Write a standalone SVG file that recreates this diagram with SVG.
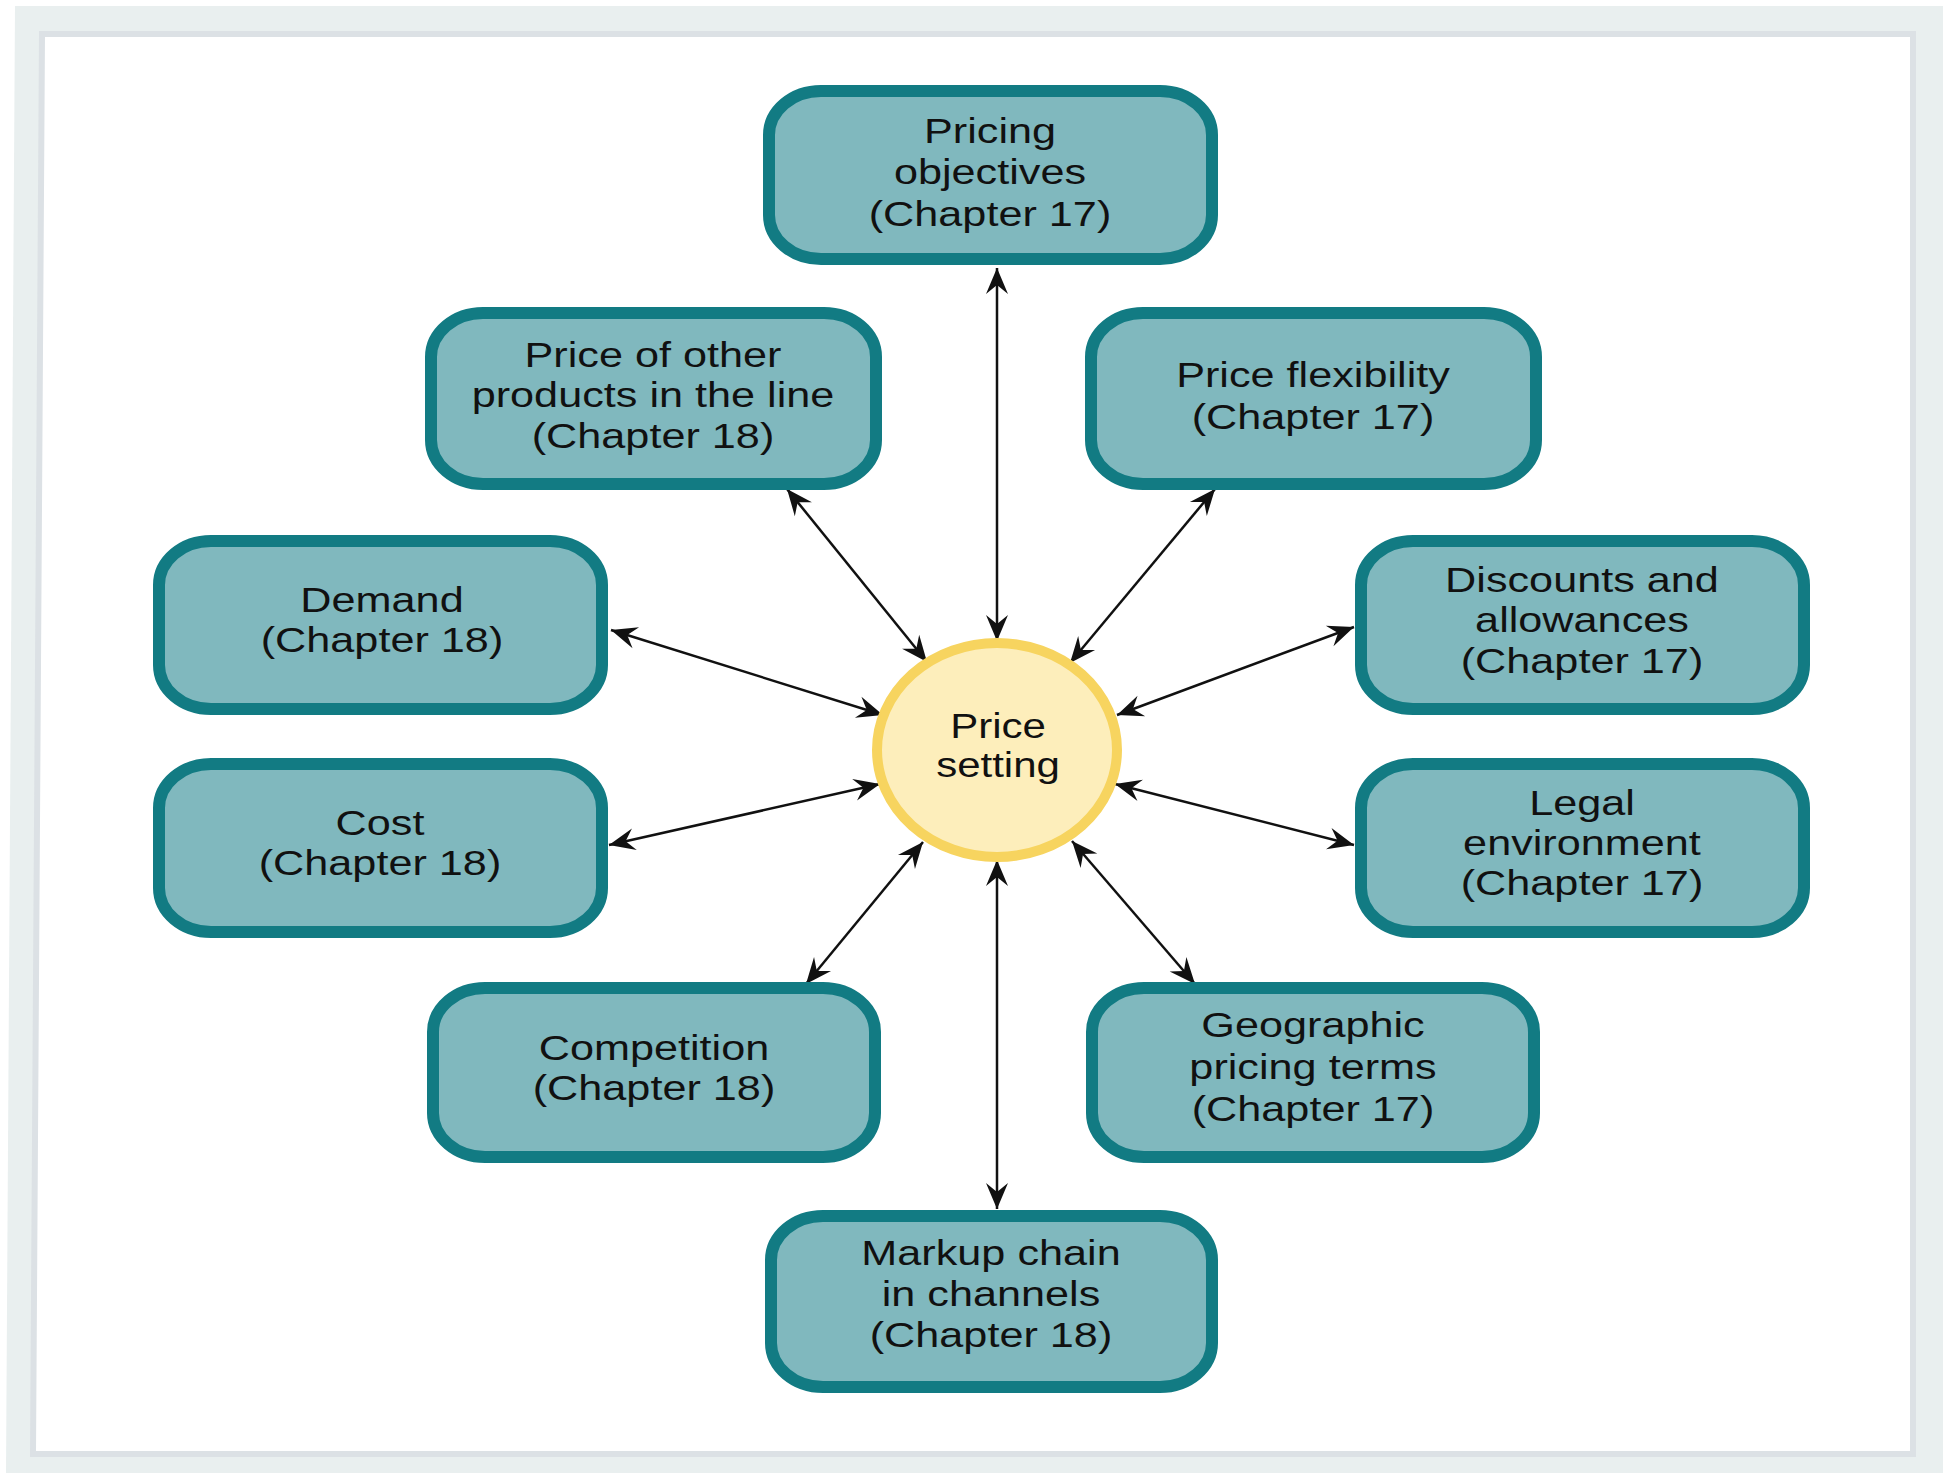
<svg xmlns="http://www.w3.org/2000/svg" width="1948" height="1473" viewBox="0 0 1948 1473">
  <style>
    .box { fill: #80b8be; stroke: #127b83; stroke-width: 12; }
    .hub { fill: #fdeebb; stroke: #f7d45f; stroke-width: 10; }
    .lbl { font-family: "Liberation Sans", Arial, sans-serif; font-size: 35px; fill: #111; text-anchor: middle; }
    .link { stroke: #111; stroke-width: 2.5; fill: none; marker-start: url(#arrow); marker-end: url(#arrow); }
  </style>
  <defs>
    <marker id="arrow" viewBox="-28 -13 30 26" refX="0" refY="0" markerWidth="30" markerHeight="26" markerUnits="userSpaceOnUse" orient="auto-start-reverse">
      <path d="M0,0 L-26,-11 L-17,0 L-26,11 Z" fill="#111"/>
    </marker>
  </defs>

  <!-- page frame -->
  <g id="frame">
    <polygon points="15,6 1943,6 1943,1473 6,1473" fill="#e9efef"/>
    <polygon points="42,34 1913,34 1913,1454 33,1454" fill="#ffffff" stroke="#dce1e5" stroke-width="6"/>
  </g>

  <!-- connectors -->
  <g id="connectors">
    <line class="link" x1="997" y1="268" x2="997" y2="641"/>
    <line class="link" x1="787" y1="489" x2="927" y2="662"/>
    <line class="link" x1="1215" y1="489" x2="1070" y2="663"/>
    <line class="link" x1="611" y1="630" x2="883" y2="715"/>
    <line class="link" x1="1354" y1="627" x2="1117" y2="715"/>
    <line class="link" x1="609" y1="845" x2="880" y2="784"/>
    <line class="link" x1="1354" y1="845" x2="1115" y2="784"/>
    <line class="link" x1="806" y1="984" x2="923" y2="842"/>
    <line class="link" x1="1195" y1="984" x2="1072" y2="841"/>
    <line class="link" x1="997" y1="860" x2="997" y2="1209"/>
  </g>

  <!-- central node -->
  <g id="price-setting">
    <ellipse class="hub" cx="997" cy="750" rx="120" ry="107"/>
    <text class="lbl" transform="translate(998,750) scale(1.2,1)"><tspan x="0" y="-12">Price</tspan><tspan x="0" y="27">setting</tspan></text>
  </g>

  <g id="pricing-objectives">
    <rect class="box" x="769" y="91" width="443" height="168" rx="52" ry="44"/>
    <text class="lbl" transform="translate(990,175) scale(1.235,1)"><tspan x="0" y="-32">Pricing</tspan><tspan x="0" y="9">objectives</tspan><tspan x="0" y="51">(Chapter 17)</tspan></text>
  </g>

  <g id="price-other-products">
    <rect class="box" x="431" y="313" width="445" height="171" rx="52" ry="44"/>
    <text class="lbl" transform="translate(653,398) scale(1.235,1)"><tspan x="0" y="-31">Price of other</tspan><tspan x="0" y="9">products in the line</tspan><tspan x="0" y="50">(Chapter 18)</tspan></text>
  </g>

  <g id="price-flexibility">
    <rect class="box" x="1091" y="313" width="445" height="171" rx="52" ry="44"/>
    <text class="lbl" transform="translate(1313,398) scale(1.235,1)"><tspan x="0" y="-11">Price flexibility</tspan><tspan x="0" y="31">(Chapter 17)</tspan></text>
  </g>

  <g id="demand">
    <rect class="box" x="159" y="541" width="443" height="168" rx="52" ry="44"/>
    <text class="lbl" transform="translate(382,625) scale(1.235,1)"><tspan x="0" y="-13">Demand</tspan><tspan x="0" y="27">(Chapter 18)</tspan></text>
  </g>

  <g id="discounts-allowances">
    <rect class="box" x="1361" y="541" width="443" height="168" rx="52" ry="44"/>
    <text class="lbl" transform="translate(1582,625) scale(1.235,1)"><tspan x="0" y="-33">Discounts and</tspan><tspan x="0" y="7">allowances</tspan><tspan x="0" y="48">(Chapter 17)</tspan></text>
  </g>

  <g id="cost">
    <rect class="box" x="159" y="764" width="443" height="168" rx="52" ry="44"/>
    <text class="lbl" transform="translate(380,848) scale(1.235,1)"><tspan x="0" y="-13">Cost</tspan><tspan x="0" y="27">(Chapter 18)</tspan></text>
  </g>

  <g id="legal-environment">
    <rect class="box" x="1361" y="764" width="443" height="168" rx="52" ry="44"/>
    <text class="lbl" transform="translate(1582,848) scale(1.235,1)"><tspan x="0" y="-33">Legal</tspan><tspan x="0" y="7">environment</tspan><tspan x="0" y="47">(Chapter 17)</tspan></text>
  </g>

  <g id="competition">
    <rect class="box" x="433" y="988" width="442" height="169" rx="52" ry="44"/>
    <text class="lbl" transform="translate(654,1072) scale(1.235,1)"><tspan x="0" y="-12">Competition</tspan><tspan x="0" y="28">(Chapter 18)</tspan></text>
  </g>

  <g id="geographic-pricing">
    <rect class="box" x="1092" y="988" width="442" height="169" rx="52" ry="44"/>
    <text class="lbl" transform="translate(1313,1072) scale(1.235,1)"><tspan x="0" y="-35">Geographic</tspan><tspan x="0" y="7">pricing terms</tspan><tspan x="0" y="49">(Chapter 17)</tspan></text>
  </g>

  <g id="markup-chain">
    <rect class="box" x="771" y="1216" width="441" height="171" rx="52" ry="44"/>
    <text class="lbl" transform="translate(991,1301) scale(1.235,1)"><tspan x="0" y="-36">Markup chain</tspan><tspan x="0" y="5">in channels</tspan><tspan x="0" y="46">(Chapter 18)</tspan></text>
  </g>
</svg>
